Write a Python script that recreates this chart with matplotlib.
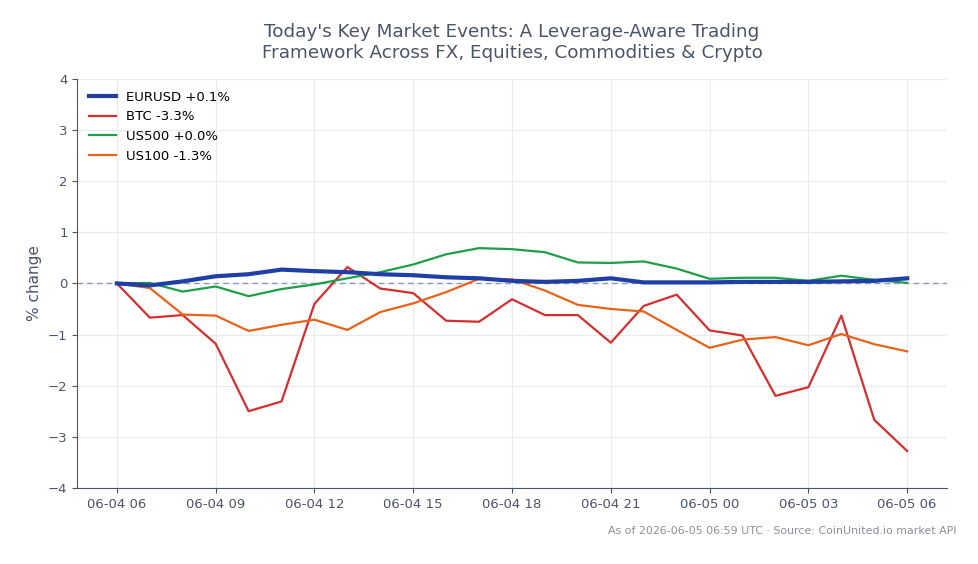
import numpy as np
import pandas as pd
import matplotlib.pyplot as plt
import matplotlib.dates as mdates

times = pd.date_range("2026-06-04 06:00", "2026-06-05 06:00", freq="h")

eurusd = [0.00, -0.04, 0.04, 0.14, 0.18, 0.27, 0.24, 0.22, 0.18, 0.16, 0.12, 0.10, 0.05,
          0.03, 0.05, 0.10, 0.02, 0.02, 0.02, 0.03, 0.03, 0.03, 0.04, 0.05, 0.10]
btc = [0.00, -0.67, -0.62, -1.18, -2.50, -2.31, -0.40, 0.32, -0.10, -0.19, -0.73, -0.75, -0.31,
       -0.62, -0.62, -1.16, -0.44, -0.22, -0.92, -1.02, -2.20, -2.03, -0.63, -2.67, -3.28]
us500 = [0.00, 0.01, -0.16, -0.06, -0.25, -0.11, -0.02, 0.10, 0.22, 0.37, 0.57, 0.69, 0.67,
         0.61, 0.41, 0.40, 0.43, 0.29, 0.09, 0.11, 0.11, 0.05, 0.15, 0.07, 0.01]
us100 = [0.00, -0.09, -0.61, -0.63, -0.93, -0.81, -0.71, -0.91, -0.56, -0.39, -0.17, 0.09, 0.08,
         -0.14, -0.42, -0.50, -0.55, -0.91, -1.26, -1.10, -1.05, -1.21, -0.99, -1.19, -1.33]

txt = "#4a5568"
fig, ax = plt.subplots(figsize=(9.79, 5.64), dpi=100)
fig.subplots_adjust(left=0.079, right=0.967, top=0.86, bottom=0.135)

ax.plot(times, eurusd, color="#1f3fa6", lw=3, label="EURUSD +0.1%", zorder=5)
ax.plot(times, btc, color="#d32f2f", lw=1.6, label="BTC -3.3%")
ax.plot(times, us500, color="#1e9e48", lw=1.6, label="US500 +0.0%")
ax.plot(times, us100, color="#e8621a", lw=1.6, label="US100 -1.3%")
ax.axhline(0, color="#8a9ab5", lw=1, ls=(0, (4, 3)), zorder=1)

ax.set_ylim(-4, 4)
ax.set_yticks(range(-4, 5))
ax.xaxis.set_major_locator(mdates.HourLocator(byhour=range(0, 24, 3)))
ax.xaxis.set_major_formatter(mdates.DateFormatter("%m-%d %H"))
ax.grid(True, color="#e8ebf0", lw=0.8)
ax.set_axisbelow(True)
for s in ["top", "right"]:
    ax.spines[s].set_visible(False)
for s in ["left", "bottom"]:
    ax.spines[s].set_color(txt)
ax.tick_params(colors=txt, labelsize=9.5)
ax.set_ylabel("% change", color=txt, fontsize=11)
ax.set_title("Today's Key Market Events: A Leverage-Aware Trading\nFramework Across FX, Equities, Commodities & Crypto",
             color=txt, fontsize=13.2, pad=15)
ax.legend(loc="upper left", frameon=False, fontsize=9.5)
fig.text(0.977, 0.05, "As of 2026-06-05 06:59 UTC · Source: CoinUnited.io market API",
         ha="right", va="bottom", fontsize=7.9, color="#8a8f98")

fig.savefig("out.png")
